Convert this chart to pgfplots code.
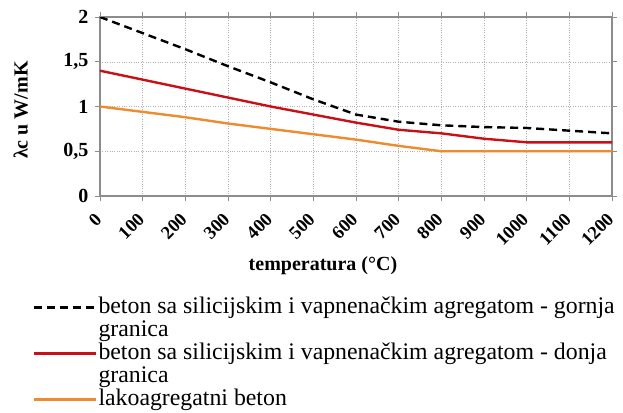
\documentclass[border=0pt]{standalone}
\usepackage{pgfplots}
\pgfplotsset{compat=1.18}
\usepackage{fontspec}
\setmainfont{Liberation Serif}
\definecolor{myred}{RGB}{200,16,22}
\definecolor{myorange}{RGB}{238,140,45}
\definecolor{axgray}{RGB}{140,140,140}
\newcommand{\gr}{\makebox[0pt][l]{\raisebox{-23pt}[0pt][0pt]{granica}}}
\begin{document}
\begin{tikzpicture}[x=1pt,y=1pt]
\path[use as bounding box] (-100,-216) rectangle (523,196);
\begin{axis}[
  at={(0,0)}, anchor=south west,
  scale only axis, width=512pt, height=179pt,
  xmin=0, xmax=1200, ymin=0, ymax=2,
  xtick={0,100,...,1200},
  ytick={0,0.5,1,1.5,2},
  yticklabels={0,{0,5},1,{1,5},2},
  /pgf/number format/assume math mode=true,
  /pgf/number format/1000 sep={},
  xticklabel style={xshift=-6pt, yshift=-6pt, rotate=45, anchor=north east, font=\bfseries\fontsize{18.5}{18.5}\selectfont},
  yticklabel style={font=\bfseries\fontsize{20}{20}\selectfont, xshift=-3pt},
  tick align=outside, tick style={axgray, thick},
  major tick length=5pt,
  axis line style={axgray, line width=1.5pt},
  grid=major, grid style={dotted, gray!60},
  xlabel={temperatura (°C)},
  xlabel style={font=\bfseries\fontsize{20}{20}\selectfont, at={(axis description cs:0.4355,-0.391)}, anchor=center},
  ylabel={λc u W/mK},
  ylabel style={font=\bfseries\fontsize{20}{20}\selectfont, at={(axis description cs:-0.155,0.48)}, anchor=center},
  legend style={at={(axis description cs:-0.131,-0.552)}, anchor=north west, draw=none, fill=none,
    font=\fontsize{23.8}{23.8}\selectfont, row sep=21pt, inner sep=0pt,
    nodes={text height=16pt, text depth=5pt, inner xsep=1pt},
    cells={anchor=west}},
  legend image code/.code={\draw[#1] (0pt,0pt) -- (62pt,0pt);},
]
\addplot[black, line width=2.4pt, dash pattern=on 8pt off 5pt] coordinates {
(0,2) (100,1.82) (200,1.64) (300,1.45) (400,1.27) (500,1.08) (600,0.91) (700,0.83) (800,0.79) (900,0.77) (1000,0.76) (1100,0.73) (1200,0.70)};
\addlegendentry{\gr beton sa silicijskim i vapnenačkim agregatom - gornja}
\addplot[myred, line width=2.4pt] coordinates {
(0,1.4) (100,1.3) (200,1.2) (300,1.1) (400,1.0) (500,0.91) (600,0.82) (700,0.74) (800,0.70) (900,0.64) (1000,0.60) (1100,0.60) (1200,0.60)};
\addlegendentry{\gr beton sa silicijskim i vapnenačkim agregatom - donja}
\addplot[myorange, line width=2.4pt] coordinates {
(0,1.0) (100,0.94) (200,0.88) (300,0.81) (400,0.75) (500,0.69) (600,0.63) (700,0.56) (800,0.50) (900,0.50) (1000,0.50) (1100,0.50) (1200,0.50)};
\addlegendentry{lakoagregatni beton}
\end{axis}
\end{tikzpicture}
\end{document}
